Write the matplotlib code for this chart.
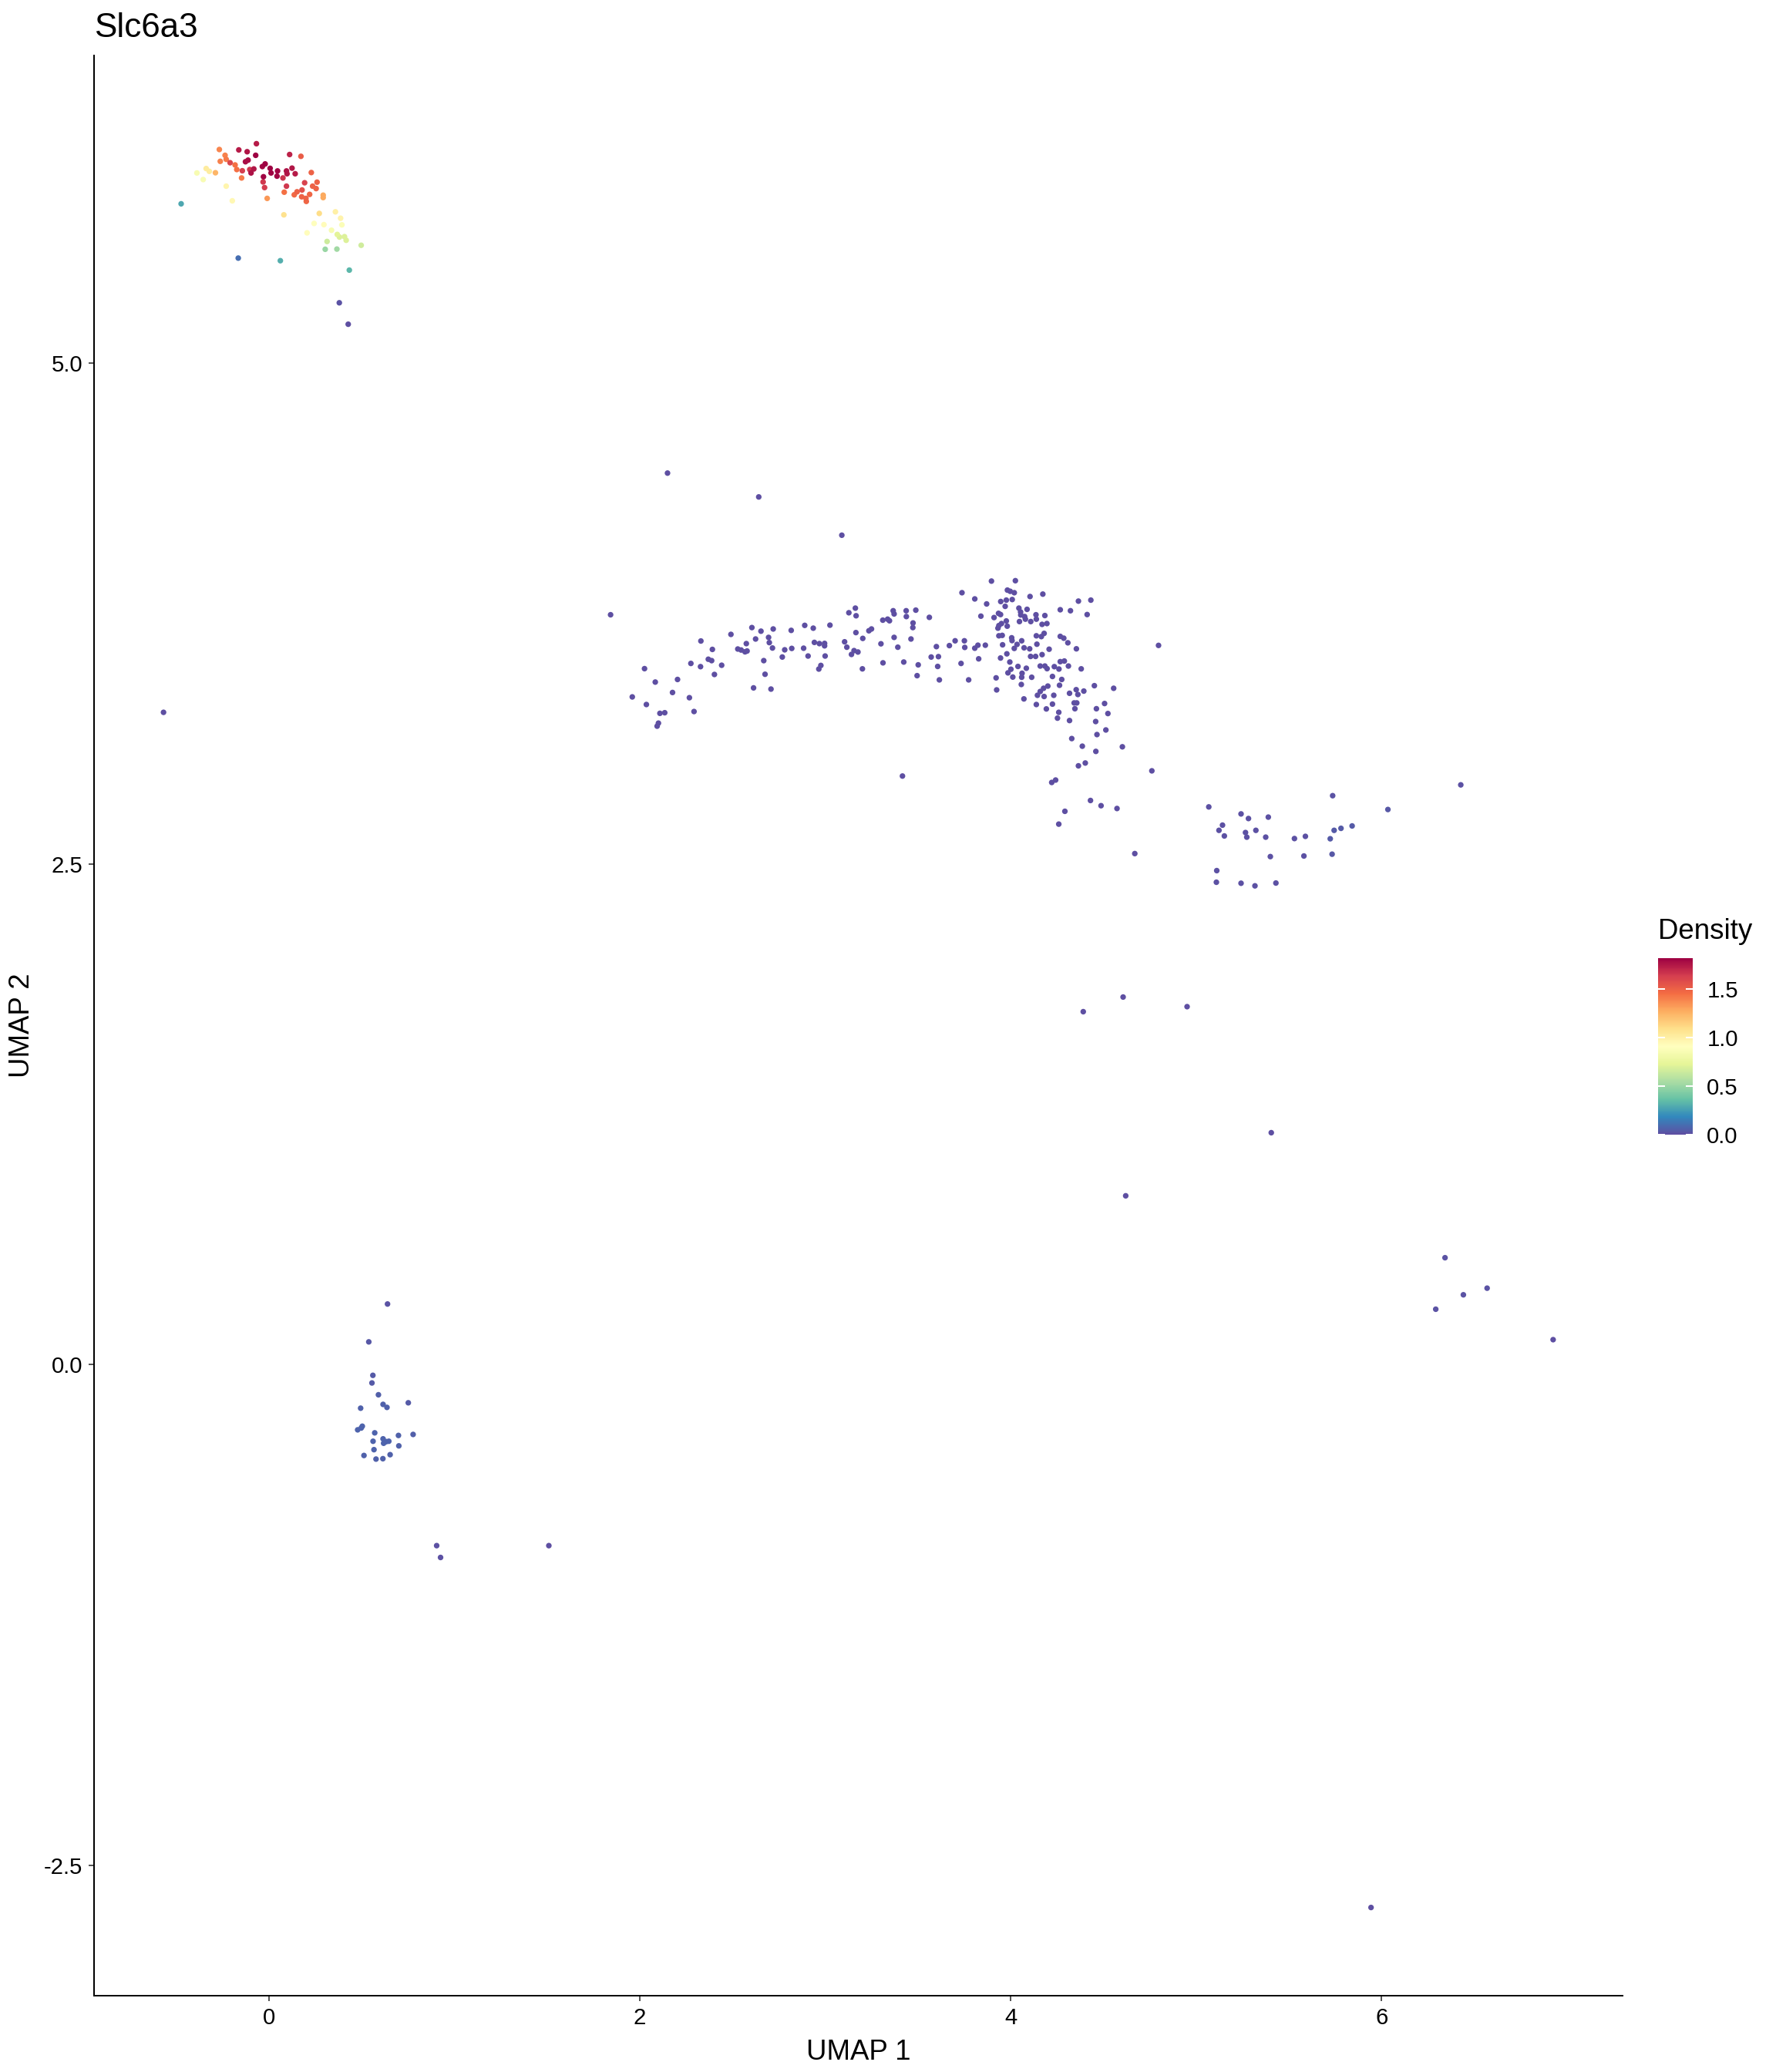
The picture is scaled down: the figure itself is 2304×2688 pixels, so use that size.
import matplotlib
matplotlib.use("Agg")
import matplotlib.pyplot as plt
import numpy as np

plt.rcParams['font.family'] = ['Liberation Sans', 'DejaVu Sans']
plt.rcParams['axes.unicode_minus'] = False

# ---------------- data (UMAP coordinates) ----------------
# dense cluster at top-left, with its density values
top_x = [-0.068, -0.163, -0.118, -0.268, -0.072, 0.111, 0.172, -0.237, -0.263, -0.231,
         -0.210, -0.183, -0.113, -0.127, -0.174, -0.144, -0.104, -0.082, -0.097, -0.036,
         -0.021, 0.006, 0.011, 0.046, 0.043, -0.030, 0.094, 0.124, 0.097, 0.141,
         0.075, -0.032, -0.024, 0.094, 0.192, 0.228, 0.259, 0.235, 0.254, 0.178,
         0.151, 0.136, 0.082, 0.219, 0.176, 0.199, 0.201, 0.292, 0.292, -0.010,
         -0.148, -0.289, -0.339, -0.322, -0.389, -0.355, -0.231, -0.198, -0.474, 0.080,
         0.271, 0.358, 0.386, 0.243, 0.296, 0.393, 0.337, 0.205, 0.368, 0.380,
         0.407, 0.416, 0.313, 0.497, 0.303, 0.366, -0.166, 0.061, 0.433, 0.379,
         0.427]
top_y = [6.094, 6.063, 6.054, 6.065, 6.036, 6.040, 6.031, 6.036, 6.006, 6.016,
         5.999, 5.988, 6.012, 6.004, 5.965, 5.959, 5.965, 5.968, 5.948, 5.980,
         5.993, 5.971, 5.948, 5.958, 5.932, 5.929, 5.958, 5.972, 5.944, 5.944,
         5.923, 5.903, 5.875, 5.882, 5.899, 5.950, 5.902, 5.882, 5.870, 5.863,
         5.854, 5.839, 5.852, 5.841, 5.829, 5.821, 5.806, 5.837, 5.825, 5.821,
         5.923, 5.949, 5.970, 5.956, 5.948, 5.915, 5.882, 5.809, 5.794, 5.739,
         5.746, 5.754, 5.722, 5.696, 5.690, 5.689, 5.662, 5.649, 5.641, 5.628,
         5.630, 5.612, 5.606, 5.587, 5.567, 5.568, 5.523, 5.510, 5.463, 5.300,
         5.193]
top_density = [1.74, 1.74, 1.76, 1.38, 1.82, 1.72, 1.52, 1.40, 1.40, 1.42,
               1.60, 1.45, 1.78, 1.78, 1.45, 1.63, 1.66, 1.75, 1.77, 1.80,
               1.82, 1.82, 1.82, 1.81, 1.81, 1.81, 1.77, 1.75, 1.75, 1.74,
               1.67, 1.65, 1.64, 1.65, 1.62, 1.50, 1.50, 1.50, 1.50, 1.57,
               1.50, 1.47, 1.45, 1.48, 1.50, 1.50, 1.48, 1.28, 1.28, 1.33,
               1.42, 1.25, 1.02, 1.02, 0.85, 0.86, 0.97, 0.95, 0.28, 1.08,
               1.10, 1.00, 0.98, 0.90, 0.93, 0.88, 0.85, 0.92, 0.72, 0.70,
               0.70, 0.70, 0.65, 0.66, 0.50, 0.52, 0.10, 0.30, 0.33, 0.02,
               0.00]

# long band in the middle
band_x = [1.842, 2.329, 2.391, 2.491, 2.604, 2.653, 2.719, 2.816, 2.889, 2.935,
          3.025, 2.624, 2.694, 2.574, 2.698, 2.715, 2.528, 2.546, 2.567, 2.578,
          2.781, 2.819, 2.883, 2.907, 2.941, 2.968, 2.996, 2.996, 2.999, 2.768,
          2.668, 2.675, 2.613, 2.707, 2.976, 2.965, 2.369, 2.387, 2.327, 2.275,
          2.441, 2.402, 2.025, 2.083, 2.203, 1.959, 2.035, 2.176, 2.267, 2.292,
          2.108, 2.134, 2.100, 2.093, 3.127, 3.162, 3.166, 3.104, 3.116, 3.165,
          3.202, 3.235, 3.249, 3.141, 3.155, 3.176, 3.200, 3.310, 3.300, 3.311,
          3.336, 3.346, 3.366, 3.371, 3.436, 3.488, 3.437, 3.561, 3.473, 3.472,
          3.371, 3.462, 3.391, 3.423, 3.501, 3.495, 3.599, 3.669, 3.700, 3.750,
          3.752, 3.806, 3.823, 3.863, 3.571, 3.610, 3.606, 3.615, 3.732, 3.773,
          3.827, 3.737, 3.806, 3.870, 3.896, 4.025, 3.982, 3.997, 4.019, 3.946,
          3.976, 4.008, 3.970, 4.104, 4.173, 4.044, 4.088, 4.053, 4.054, 4.075,
          4.079, 4.047, 4.108, 4.136, 4.138, 4.184, 4.169, 4.195, 3.839, 3.910,
          3.934, 3.945, 3.976, 3.950, 3.936, 3.931, 3.981, 4.267, 4.322, 4.365,
          4.432, 4.412, 3.936, 3.954, 4.005, 4.007, 4.059, 4.034, 4.019, 3.956,
          4.138, 4.165, 4.180, 4.141, 4.072, 4.102, 3.979, 3.945, 4.107, 4.134,
          4.169, 4.207, 4.267, 4.286, 4.308, 4.354, 3.995, 4.039, 4.084, 4.001,
          3.985, 4.061, 4.059, 4.011, 4.113, 3.921, 3.924, 4.057, 4.159, 4.184,
          4.196, 4.235, 4.260, 4.311, 4.267, 4.289, 4.380, 4.225, 4.275, 4.263,
          4.200, 4.177, 4.159, 4.144, 4.180, 4.232, 4.071, 4.138, 4.192, 4.225,
          4.317, 4.353, 4.362, 4.394, 4.451, 4.555, 4.342, 4.356, 4.346, 4.462,
          4.506, 4.524, 4.259, 4.252, 4.317, 4.458, 4.513, 4.465, 4.329, 4.386,
          4.459, 4.602, 4.402, 4.365, 4.242, 4.221, 4.797, 4.761, 3.416, 4.430,
          4.487, 4.573, 4.292, 4.259, 4.669]
band_y = [3.743, 3.612, 3.570, 3.645, 3.679, 3.661, 3.672, 3.665, 3.690, 3.676,
          3.691, 3.622, 3.630, 3.599, 3.604, 3.577, 3.572, 3.567, 3.558, 3.562,
          3.568, 3.575, 3.576, 3.537, 3.605, 3.599, 3.600, 3.588, 3.537, 3.532,
          3.514, 3.446, 3.378, 3.372, 3.490, 3.472, 3.521, 3.514, 3.484, 3.500,
          3.491, 3.445, 3.474, 3.407, 3.420, 3.333, 3.295, 3.355, 3.329, 3.260,
          3.251, 3.254, 3.202, 3.187, 3.753, 3.776, 3.738, 3.608, 3.581, 3.654,
          3.625, 3.663, 3.672, 3.545, 3.564, 3.557, 3.473, 3.716, 3.598, 3.503,
          3.721, 3.713, 3.763, 3.747, 3.763, 3.766, 3.734, 3.730, 3.702, 3.679,
          3.630, 3.622, 3.581, 3.507, 3.493, 3.439, 3.584, 3.589, 3.613, 3.613,
          3.580, 3.576, 3.591, 3.591, 3.532, 3.534, 3.485, 3.418, 3.500, 3.418,
          3.523, 3.853, 3.822, 3.797, 3.911, 3.913, 3.866, 3.860, 3.853, 3.809,
          3.816, 3.819, 3.785, 3.834, 3.846, 3.776, 3.770, 3.757, 3.742, 3.734,
          3.721, 3.709, 3.709, 3.743, 3.721, 3.739, 3.695, 3.699, 3.736, 3.729,
          3.750, 3.744, 3.712, 3.699, 3.689, 3.676, 3.686, 3.768, 3.763, 3.811,
          3.816, 3.744, 3.638, 3.640, 3.628, 3.614, 3.613, 3.595, 3.575, 3.593,
          3.638, 3.634, 3.650, 3.596, 3.578, 3.573, 3.548, 3.527, 3.535, 3.535,
          3.544, 3.571, 3.635, 3.626, 3.603, 3.573, 3.507, 3.485, 3.476, 3.471,
          3.453, 3.451, 3.431, 3.432, 3.431, 3.428, 3.368, 3.395, 3.487, 3.487,
          3.474, 3.484, 3.472, 3.487, 3.509, 3.512, 3.473, 3.435, 3.420, 3.391,
          3.387, 3.376, 3.360, 3.341, 3.335, 3.341, 3.323, 3.295, 3.273, 3.297,
          3.351, 3.369, 3.345, 3.362, 3.389, 3.376, 3.303, 3.303, 3.274, 3.274,
          3.300, 3.250, 3.256, 3.227, 3.215, 3.210, 3.168, 3.145, 3.125, 3.087,
          3.061, 3.084, 3.003, 2.989, 2.918, 2.906, 3.590, 2.964, 2.938, 2.816,
          2.790, 2.776, 2.762, 2.698, 2.551]

# smaller group to the right of the band
right_x = [5.068, 5.242, 5.282, 5.389, 5.142, 5.123, 5.152, 5.266, 5.273, 5.322,
           5.375, 5.530, 5.589, 5.736, 5.744, 5.781, 5.841, 5.723, 6.034, 6.427,
           5.400, 5.581, 5.733, 5.111, 5.109, 5.242, 5.317, 5.430]
right_y = [2.784, 2.749, 2.726, 2.733, 2.693, 2.667, 2.639, 2.656, 2.633, 2.667,
           2.633, 2.626, 2.637, 2.840, 2.667, 2.677, 2.689, 2.625, 2.771, 2.894,
           2.536, 2.539, 2.548, 2.466, 2.408, 2.403, 2.390, 2.404]
right_density = [0.01, 0.01, 0.01, 0.01, 0.01, 0.01, 0.01, 0.01, 0.01, 0.01,
                 0.01, 0.01, 0.01, 0.02, 0.04, 0.04, 0.04, 0.04, 0.03, 0.01,
                 0.01, 0.01, 0.03, 0.01, 0.01, 0.01, 0.01, 0.01]

# group at the lower left
low_x = [0.639, 0.538, 0.560, 0.555, 0.590, 0.615, 0.636, 0.751, 0.494, 0.503,
         0.478, 0.497, 0.570, 0.615, 0.618, 0.646, 0.632, 0.698, 0.777, 0.561,
         0.700, 0.566, 0.512, 0.577, 0.614, 0.653, 0.904, 0.925, 1.509]
low_y = [0.303, 0.114, -0.053, -0.091, -0.150, -0.198, -0.213, -0.190, -0.217, -0.307,
         -0.325, -0.316, -0.340, -0.370, -0.392, -0.382, -0.384, -0.353, -0.348, -0.382,
         -0.405, -0.424, -0.453, -0.471, -0.469, -0.449, -0.903, -0.962, -0.903]
low_density = [0.02, 0.03, 0.04, 0.04, 0.05, 0.06, 0.06, 0.04, 0.06, 0.07,
               0.07, 0.07, 0.07, 0.07, 0.07, 0.07, 0.07, 0.06, 0.05, 0.07,
               0.06, 0.07, 0.06, 0.06, 0.06, 0.06, 0.01, 0.01, 0.00]

# scattered single cells
lone_x = [-0.569, 2.149, 2.641, 3.089, 4.606, 4.391, 4.951, 5.405, 4.620, 6.342,
          6.292, 6.441, 6.569, 6.925, 5.943]
lone_y = [3.256, 4.450, 4.331, 4.140, 1.835, 1.762, 1.787, 1.158, 0.843, 0.534,
          0.277, 0.349, 0.382, 0.125, -2.709]
lone_density = [0.00, 0.00, 0.00, 0.00, 0.00, 0.00, 0.00, 0.00, 0.00, 0.02,
                0.02, 0.02, 0.02, 0.00, 0.00]

BAND_DENSITY = 0.0  # every cell of the band has the lowest colour
band_density = [BAND_DENSITY] * len(band_x)

title = "Slc6a3"
x_label = "UMAP 1"
y_label = "UMAP 2"
legend_title = "Density"
x_ticks = [0, 2, 4, 6]
y_ticks = [-2.5, 0.0, 2.5, 5.0]
cbar_ticks = [0.0, 0.5, 1.0, 1.5]

# ---------------- assemble ----------------
ux = np.array(band_x + right_x + low_x + lone_x + top_x)
uy = np.array(band_y + right_y + low_y + lone_y + top_y)
dens = np.array(band_density + right_density + low_density + lone_density + top_density)
order = np.argsort(dens, kind="stable")
ux, uy, dens = ux[order], uy[order], dens[order]

W, H = 2304, 2688
DPI = 240
fig = plt.figure(figsize=(W / DPI, H / DPI), dpi=DPI)
fig.patch.set_facecolor("white")

ax_l, ax_r, ax_t, ax_b = 122, 2105, 72, 2589
ax = fig.add_axes([ax_l / W, 1 - ax_b / H, (ax_r - ax_l) / W, (ax_b - ax_t) / H])

cmap = plt.get_cmap("Spectral_r")
sc = ax.scatter(ux, uy, c=dens, cmap=cmap, vmin=0, vmax=dens.max(),
                s=4.8, linewidths=0, zorder=3)

# ggplot-like 5% expansion
xr = ux.max() - ux.min()
yr = uy.max() - uy.min()
ax.set_xlim(ux.min() - 0.05 * xr, ux.max() + 0.05 * xr)
ax.set_ylim(uy.min() - 0.05 * yr, uy.max() + 0.05 * yr)

for s in ["top", "right"]:
    ax.spines[s].set_visible(False)
for s in ["left", "bottom"]:
    ax.spines[s].set_linewidth(0.6)
    ax.spines[s].set_color("black")

ax.set_xticks(x_ticks)
ax.set_xticklabels([str(t) for t in x_ticks])
ax.set_yticks(y_ticks)
ax.set_yticklabels([f"{t:.1f}" for t in y_ticks])
ax.tick_params(axis="both", length=2.2, width=0.5, color="#333333",
               labelsize=8.8, labelcolor="black", pad=2.3)

ax.set_title(title, loc="left", fontsize=13.2, pad=7.2, color="black")

fig.text((ax_l + ax_r) / 2 / W, 1 - 2672 / H, x_label, ha="center", va="baseline",
         fontsize=11, color="black")
fig.text(29 / W, 1 - (ax_t + ax_b) / 2 / H, y_label, ha="center", va="center",
         rotation=90, fontsize=11, color="black")

# colour bar
cb_l, cb_r, cb_t, cb_b = 2151, 2196, 1243, 1472
cax = fig.add_axes([cb_l / W, 1 - cb_b / H, (cb_r - cb_l) / W, (cb_b - cb_t) / H])
cbar = fig.colorbar(sc, cax=cax, ticks=cbar_ticks)
cbar.outline.set_visible(False)
cbar.ax.set_yticklabels([f"{t:.1f}" for t in cbar_ticks])
cbar.ax.tick_params(direction="in", length=2.8, width=0.6, color="white",
                    left=True, right=True, labelleft=False, labelright=True,
                    labelsize=8.8, labelcolor="black", pad=5.5)
cax.set_title(legend_title, loc="left", fontsize=11, pad=7.4, color="black")

fig.savefig("out.png", dpi=DPI, facecolor="white")
